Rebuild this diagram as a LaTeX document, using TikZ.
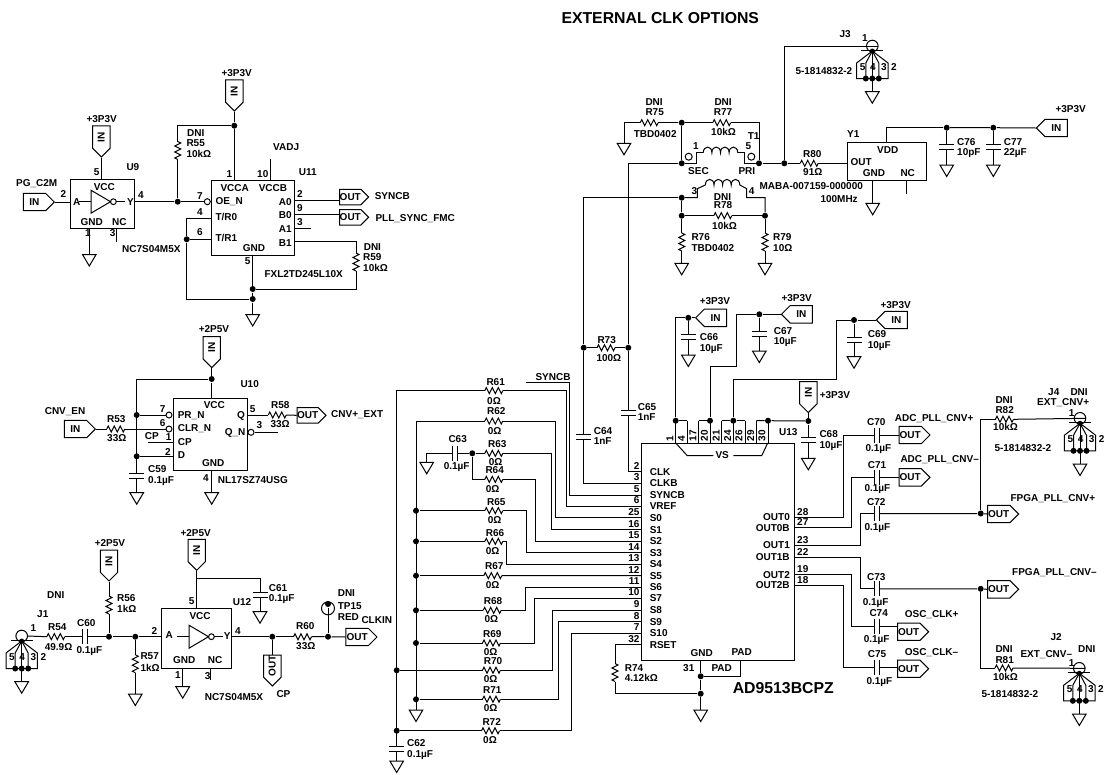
\documentclass[tikz,border=0pt]{standalone}
\usepackage{fontspec}
\setmainfont{Liberation Sans}
\usetikzlibrary{shapes.symbols}
\begin{document}
\begin{tikzpicture}[x=1pt, y=-1pt, line width=1pt,
        every node/.style={font=\fontsize{10}{11}\selectfont\bfseries},
        lbl/.style={anchor=base west, inner sep=0pt},
        ic/.style={draw, rectangle, inner sep=0pt},
        dot/.style={circle, fill=black, inner sep=0pt, minimum size=6},
        bub/.style={circle, draw, inner sep=0pt, minimum size=6},
        port/.style={draw, shape=signal, signal pointer angle=90, inner sep=0pt, minimum width=31, minimum height=17.4},
        inR/.style={port, signal to=east, anchor=east},
        inL/.style={port, signal to=west, anchor=west},
        inD/.style={port, signal to=west, rotate=90, anchor=west},
        pics/res/.style={code={
          \draw (-9,0) -- (-7.5,-3) -- (-4.5,3) -- (-1.5,-3) -- (1.5,3) -- (4.5,-3) -- (7.5,3) -- (9,0);
          \coordinate (-a) at (-9,0);
          \coordinate (-b) at (9,0);
        }},
        pics/capc/.style={code={
          \draw (-2.5,-7.5) -- (-2.5,7.5) (2.5,-7.5) -- (2.5,7.5);
          \coordinate (-a) at (-2.5,0);
          \coordinate (-b) at (2.5,0);
        }},
        pics/gndsym/.style={code={
          \draw (-6.8,0) -- (6.8,0) -- (0,11.5) -- cycle;
          \coordinate (-t) at (0,0);
        }},
        pics/inv/.style={code={
          \draw (0,-11.5) -- (0,11.5) -- (19.5,0) -- cycle;
          \draw (22.4,0) circle (2.9);
          \draw (-12,0) -- (0,0) (25.3,0) -- (34,0);
        }},
        pics/coil/.style={code={
          \draw (0,0) .. controls (0,-7.5) and (8.6,-7.5) .. (8.6,0)
            .. controls (8.6,-7.5) and (17.2,-7.5) .. (17.2,0)
            .. controls (17.2,-7.5) and (25.8,-7.5) .. (25.8,0)
            .. controls (25.8,-7.5) and (34.4,-7.5) .. (34.4,0);
          \coordinate (-a) at (0,0);
          \coordinate (-b) at (34.4,0);
        }},
        pics/bnc/.style={code={
          \draw (0,0) circle (5.8);
          \draw (-11,4.6) -- (11,4.6);
          \draw (0,5) -- (-15.7,17) -- (-15.7,32.5) -- (15.7,32.5) -- (15.7,17) -- (0,5);
          \draw (-6.5,32.5) -- (-6.5,17) -- (0,5) -- (6.5,17) -- (6.5,32.5);
          \draw (0,5) -- (0,45.7);
          \foreach \x in {-6.5,0,6.5} \node[dot] at (\x,32.5) {};
          \node[dot, minimum size=5] (-d) at (0,5) {};
          \node[lbl] (-n5) at (-13,24) {5};
          \node[lbl] (-n4) at (-2.7,24) {4};
          \node[lbl] (-n3) at (8.3,24) {3};
          \node[lbl] (-n2) at (18.3,24) {2};
          \pic (-g) at (0,45.7) {gndsym};
          \coordinate (-p) at (5.8,0);
        }}]
        \useasboundingbox (0,0) rectangle (1107,774);

        \node[lbl, font=\fontsize{15.8}{17}\selectfont\bfseries] (title) at (561,23) {EXTERNAL CLK OPTIONS};
        \node[lbl, font=\fontsize{15.8}{17}\selectfont\bfseries] (u13part) at (732.3,693.3) {AD9513BCPZ};

        \node[ic, minimum width=64.3, minimum height=49] (U9) at (102.8,203.8) {};
        \node[ic, minimum width=83, minimum height=75] (U11) at (252.8,218.2) {};
        \node[ic, minimum width=74.3, minimum height=72] (U10) at (210.2,434) {};
        \node[ic, minimum width=70.4, minimum height=59.6] (U12) at (196.5,638.5) {};
        \node[ic, minimum width=78.7, minimum height=37.7] (Y1) at (886.7,161.2) {};
        \node[ic, minimum width=152.3, minimum height=216.7] (U13) at (717.9,552.3) {};

        \foreach \n/\x/\y in {R53/115.8/429, R58/277.2/415, R54/55.8/636.7, R60/302.5/636.7,
            R61/493.8/390.7, R62/493.8/421, R63/493.8/453.3, R64/493.8/479.3, R65/493.8/510.7, R66/493.8/541.3,
            R67/492.8/575.7, R68/492.2/610.3, R69/491.5/643, R70/491.5/670.3, R71/491.5/699.3, R72/490.5/730.7,
            R73/606/347.7, R75/649.2/122.7, R77/721.7/122.7, R78/722.8/215.7, R80/809.2/163.3, R82/1004.5/419.3, R81/1004/668}
          \pic (\n) at (\x,\y) {res};
        \foreach \n/\x/\y in {R55/177.7/150.5, R59/356/262, R56/109/605, R57/135.3/663.7, R74/615/672.5, R76/681.7/242, R79/765/242}
          \pic[rotate=-90] (\n) at (\x,\y) {res};
        \foreach \n/\x/\y in {C60/84.5/636.7, C63/454.8/453.3, C70/876.5/435, C71/876.5/477, C72/876.5/513.5,
            C73/876.5/588.8, C74/876.5/626, C75/876.5/667}
          \pic (\n) at (\x,\y) {capc};
        \foreach \n/\x/\y in {C59/136.7/475.8, C61/260/594.8, C62/396.7/748.5, C64/583.7/436.7, C65/628.3/413.2,
            C66/688.3/337.2, C67/759.3/333.8, C68/808.3/440.2, C69/854/339.5, C76/946.7/146.5, C77/993.3/146.5}
          \pic[rotate=-90] (\n) at (\x,\y) {capc};
        \foreach \n/\x/\y in {gU9/89.3/254.5, gU11/252.7/314.5, gU10/211.7/492.7, gC59/136.7/492.7, gR57/135.3/694,
            gU12/182.7/686.7, gC61/260/611.7, gC63/426.7/462.3, gS/416/710, gC62/396.7/761, gR74/700.7/710,
            gR75/624/143.3, gR76/681.7/263.3, gR79/765/263.3, gY1/872.7/203.3, gC76/946.7/165, gC77/993.3/165,
            gC66/688.3/355, gC67/759.3/351, gC69/854/356.7, gC68/808.3/458.3}
          \pic (\n) at (\x,\y) {gndsym};
        \foreach \n/\x/\y in {J1/21.7/636, J3/872.3/46, J4/1080/418.3, J2/1079.3/668.3}
          \pic (\n) at (\x,\y) {bnc};
        \pic (invU9) at (91,201.7) {inv};
        \pic (invU12) at (189,636.7) {inv};

        \foreach \n/\x/\y in {pU9/101.3/157.7, pU11/234.3/111.7, pU10/211.7/368.3, pR56/109/581.7, pU12/196.7/571, pU13/808.3/413.3}
          \node[inD] (\n) at (\x,\y) {IN};
        \node[inD] (pCP) at (272.3,686.7) {OUT};
        \foreach \n/\x/\y in {pPG/55/202, pEN/96/429}
          \node[inR] (\n) at (\x,\y) {IN};
        \foreach \n/\x/\y in {pY1/1035.7/128, pC66/695/317.8, pC67/780.7/314.3, pC69/875.7/320}
          \node[inL] (\n) at (\x,\y) {IN};
        \foreach \n/\x/\y in {pSYNC/369.3/197, pPLL/369.3/217.3, pQ/326.7/415.3}
          \node[inR, minimum width=28, minimum height=15.5] (\n) at (\x,\y) {OUT};
        \foreach \n/\x/\y in {pCLK/377.7/637, pC70/930.7/435, pC71/930.7/477.3, pFP/1019.3/514, pFN/1019.3/589.3, pC74/929.3/631.7, pC75/929.3/668.7}
          \node[inR] (\n) at (\x,\y) {OUT};

        \foreach \n/\x/\y in {jU9/177.7/201.7, jU11v/234.3/125.7, jU11a/186.7/239.3, jU11g/252.7/289, jU11h/252.7/299,
            jU10v/211.7/379, jU10p/136.7/415, jU10d/136.7/456.3, jA1/109/636.7, jA2/135.3/636.7, jCP/272.3/636.7,
            jTP/328/636.7, jTPtop/328/604, jL1/416/510.7, jL2/416/541.3, jL3/416/575.7, jL4/416/610.3, jL5/416/643,
            jL6/396.7/670.3, jL7/416/699.3, jL8/396.7/730.7, jC63/472.3/453.3, jR73a/583.7/347.7, jR73b/628.3/347.7,
            jPad/700.7/676.3, jR74/700.7/693.7, jFP/980.7/513.5, jFN/980.7/588.8, jT1a/681.7/122.7, jT1b/681.7/163.3,
            jT1c/759/163.3, jT1d/784.3/163.3, jT1e/681.7/197.7, jT1f/681.7/215.7, jT1g/765/215.7, jY1a/946.7/127.7,
            jY1b/993.3/127.7, jV1/675.7/420.7, jV2/710/420.7, jV3/733.3/420.7, jV4/768/420.7, jV5/808.3/421, jC66/688.3/317.8,
            jC67/759.3/314.3, jC69/854/320}
          \node[dot] (\n) at (\x,\y) {};

        \foreach \n/\x/\y in {bU11/207.3/201.7, bU10a/169/415, bU10b/169/429, bU10c/251/432.3}
          \node[bub] (\n) at (\x,\y) {};
        \foreach \n/\x/\y in {bT1a/688.7/156.7, bT1b/751.3/156.7}
          \node[bub, minimum size=7] (\n) at (\x,\y) {};
        \node[bub, minimum size=13] (tp) at (328,608.3) {};

        \foreach \n/\x/\y in {U9a/70.7/202, U9y/135/201.7, U9v/101.3/179.3, U9g/89.3/228.3, U9nc/116/228.3, U9ncb/116/241.7,
            U11v/234.3/180.7, U11vb/270.7/180.7, U11vc/270.7/158.7, U11t0/211.3/218.3, U11t1/211.3/239.3, U11g/252.7/255.7,
            U11a0/294.3/200, U11b0/294.3/214.3, U11a1/294.3/228.3, U11a1b/310.7/228.3, U11b1/294.3/241.7,
            U10v/211.7/398, U10cp/173/442.7, U10cpb/147.7/442.7, U10d/173/456.3, U10g/211.7/470, U10q/247.3/415, U10qn/277.7/432.3,
            U12a/161.3/636.7, U12y/231.7/636.7, U12v/196.7/608.7, U12vb/196.7/578.7, U12g/182.7/668.3, U12nc/210.7/668.3, U12ncb/210.7/680,
            Y1out/847.3/163.3, Y1v/886/142.3, Y1g/872.7/180, Y1nc/906/180, Y1ncb/906/194.3,
            U13g/700.7/660.7, U13pad/740/660.7}
          \coordinate (\n) at (\x,\y);

        \foreach \n/\y/\t/\pin in {clk/471.7/CLK/2, clkb/483.3/CLKB/3, sync/495/SYNCB/5, vref/506/VREF/6, s0/517.7/S0/25, s1/529.5/S1/16,
            s2/541/S2/15, s3/552.7/S3/14, s4/564/S4/13, s5/575.5/S5/12, s6/587/S6/11, s7/598.3/S7/10, s8/610/S8/9, s9/621.7/S9/8,
            s10/633/S10/7, rset/644.7/RSET/32} {
          \coordinate (U13\n) at (641.7,\y);
          \node[lbl, yshift=-3.5pt] (lab\n) at (649.3,\y) {\t};
          \node[lbl, anchor=base east, yshift=2.5pt] (pin\n) at (640,\y) {\pin};
        }
        \foreach \n/\x/\y/\t/\pin in {o0/762.7/517/OUT0/28, o0b/755.3/527.7/OUT0B/27, o1/762.7/545.3/OUT1/23, o1b/755.3/557/OUT1B/22,
            o2/762.7/574.7/OUT2/19, o2b/755.3/585.3/OUT2B/18} {
          \coordinate (U13\n) at (794,\y);
          \node[lbl, yshift=-3.5pt] (lab\n) at (\x,\y) {\t};
          \node[lbl, yshift=2pt] (pin\n) at (796.7,\y) {\pin};
        }

        \foreach \x/\t [count=\i] in {681.5/4, 693/17, 704.3/20, 716/21, 727.5/24, 739/26, 750.7/29, 762/30, 670/1}
          \node[lbl, anchor=west, rotate=90] (vs\i) at (\x,441.5) {\t};
        \foreach \x [count=\i] in {675.7, 687.3, 698.7, 710, 721.7, 733.3, 745, 756.3, 768}
          \draw (\x,420.7) -- (\x,444);
        \draw (jV1) -- (687.3,420.7);
        \draw (698.7,420.7) -- (jV2);
        \draw (721.7,420.7) -- (jV3) -- (745,420.7);
        \draw (756.3,420.7) -- (jV4) -- (jV5);
        \draw (675.7,443) -- (687.3,455.7) -- (713.3,455.7) (733.3,455.7) -- (761.7,455.7) -- (767.7,443);
        \node[lbl] (vslab) at (715,458.5) {VS};

        \draw (pPG.east) -- (U9a);
        \draw (pU9.west) -- (U9v);
        \draw (U9g) -- (gU9-t);
        \draw (U9nc) -- (U9ncb);
        \draw (U9y) -- (jU9) -- (bU11.west);
        \draw (jU9) -- (R55-b);
        \draw (R55-a) -- (177.7,125.7) -- (jU11v);
        \draw (pU11.west) -- (jU11v) -- (U11v);
        \draw (U11vb) -- (U11vc);
        \draw (U11t0) -| (jU11a) -- (U11t1);
        \draw (jU11a) |- (jU11h);
        \draw (U11g) -- (jU11g) -- (jU11h) -- (gU11-t);
        \draw (U11a0) -- (U11a0 -| pSYNC.west);
        \draw (U11b0) -- (U11b0 -| pPLL.west);
        \draw (U11a1) -- (U11a1b);
        \draw (U11b1) -| (R59-a);
        \draw (R59-b) |- (jU11g);

        \draw (pU10.west) -- (jU10v) -- (U10v);
        \draw (jU10v) -| (C59-a);
        \draw (jU10p) -- (bU10a.west);
        \draw (pEN.east) -- (R53-a);
        \draw (R53-b) -- (bU10b.west);
        \draw (U10cp) -- (U10cpb);
        \draw (jU10d) -- (U10d);
        \draw (C59-b) -- (gC59-t);
        \draw (U10g) -- (gU10-t);
        \draw (U10q) -- (R58-a);
        \draw (R58-b) -- (pQ.west);
        \draw (bU10c.east) -- (U10qn);

        \draw (J1-p) -- (R54-a);
        \draw (R54-b) -- (C60-a);
        \draw (C60-b) -- (jA1) -- (jA2) -- (U12a);
        \draw (pR56.west) -- (R56-a);
        \draw (R56-b) -- (jA1);
        \draw (jA2) -- (R57-a);
        \draw (R57-b) -- (gR57-t);
        \draw (pU12.west) -- (U12v);
        \draw (U12vb) -| (C61-a);
        \draw (C61-b) -- (gC61-t);
        \draw (U12g) -- (gU12-t);
        \draw (U12nc) -- (U12ncb);
        \draw (U12y) -- (jCP) -- (R60-a);
        \draw (jCP) -- (pCP.east);
        \draw (R60-b) -- (jTP) -- (pCLK.west);
        \draw (jTP) -- (jTPtop);

        \draw (R61-a) -| (C62-a);
        \draw (C62-b) -- (gC62-t);
        \draw (R62-a) -| (gS-t);
        \draw (R61-b) -- (566,390.7) |- (U13vref);
        \draw (R62-b) -- (555.7,421) |- (U13s0);
        \draw (gC63-t) |- (C63-a);
        \draw (C63-b) -- (jC63) -- (R63-a);
        \draw (jC63) |- (R64-a);
        \draw (R63-b) -- (551,453.3) |- (U13s1);
        \draw (R64-b) -- (535.7,479.3) |- (U13s2);
        \draw (jL1) -- (R65-a);
        \draw (R65-b) -- (526.7,510.7) |- (U13s3);
        \draw (jL2) -- (R66-a);
        \draw (R66-b) -- (506.7,541.3) |- (U13s4);
        \draw (jL3) -- (R67-a);
        \draw (R67-b) -- (U13s5);
        \draw (jL4) -- (R68-a);
        \draw (R68-b) -- (525.7,610.3) |- (U13s6);
        \draw (jL5) -- (R69-a);
        \draw (R69-b) -- (534.7,643) |- (U13s7);
        \draw (jL6) -- (R70-a);
        \draw (R70-b) -- (552.7,670.3) |- (U13s8);
        \draw (jL7) -- (R71-a);
        \draw (R71-b) -- (558.7,699.3) |- (U13s9);
        \draw (jL8) -- (R72-a);
        \draw (R72-b) -- (571,730.7) |- (U13s10);
        \draw (525.7,382.7) -- (569.3,382.7) |- (U13sync);

        \draw (U13rset) -| (R74-a);
        \draw (R74-b) |- (jR74);
        \draw (U13g) -- (jPad) -- (jR74) -- (gR74-t);
        \draw (jPad) -| (U13pad);

        \draw (U13clk) -| (C65-b);
        \draw (C65-a) -- (jR73b) -- (628.3,163.3) -- (jT1b);
        \draw (U13clkb) -| (C64-b);
        \draw (C64-a) -- (jR73a) -- (583.7,197.7) -- (jT1e);
        \draw (jR73a) -- (R73-a);
        \draw (R73-b) -- (jR73b);

        \draw (gR75-t) |- (R75-a);
        \draw (R75-b) -- (jT1a) -- (R77-a);
        \draw (R77-b) -| (jT1c);
        \draw (jT1a) -- (jT1b);
        \pic (coilP) at (703.3,152.7) {coil};
        \pic (coilS) at (705.4,185) {coil};
        \draw (jT1b) -- (696,163.3) -- (696,152.7) -- (coilP-a);
        \draw (coilP-b) -- (744,152.7) -- (744,163.3) -- (jT1c);
        \draw (jT1c) -- (jT1d) -- (R80-a);
        \draw (R80-b) -- (Y1out);
        \draw (jT1d) |- (J3-p);
        \draw (jT1e) -- (697.3,197.7) -- (697.3,188.7) -- (coilS-a);
        \draw (coilS-b) -- (746.7,188.7) -- (746.7,197.7) -- (765,197.7) -- (jT1g);
        \draw (jT1e) -- (jT1f) -- (R78-a);
        \draw (R78-b) -- (jT1g);
        \draw (jT1f) -- (R76-a);
        \draw (R76-b) -- (gR76-t);
        \draw (jT1g) -- (R79-a);
        \draw (R79-b) -- (gR79-t);

        \draw (Y1v) |- (jY1a);
        \draw (jY1a) -- (jY1b) -- (pY1.west);
        \draw (jY1a) -- (C76-a);
        \draw (C76-b) -- (gC76-t);
        \draw (jY1b) -- (C77-a);
        \draw (C77-b) -- (gC77-t);
        \draw (Y1g) -- (gY1-t);
        \draw (Y1nc) -- (Y1ncb);

        \draw (jV1) |- (jC66);
        \draw (jC66) -- (pC66.west);
        \draw (jC66) -- (C66-a);
        \draw (C66-b) -- (gC66-t);
        \draw (jV2) -- (710,366.7) -- (736.3,366.7) |- (jC67);
        \draw (jC67) -- (pC67.west);
        \draw (jC67) -- (C67-a);
        \draw (C67-b) -- (gC67-t);
        \draw (jV3) -- (733.3,379.3) -- (836,379.3) |- (jC69);
        \draw (jC69) -- (pC69.west);
        \draw (jC69) -- (C69-a);
        \draw (C69-b) -- (gC69-t);
        \draw (pU13.west) -- (jV5) -- (C68-a);
        \draw (C68-b) -- (gC68-t);

        \draw (U13o0) -- (843.3,517) |- (C70-a);
        \draw (C70-b) -- (C70-b -| pC70.west);
        \draw (U13o0b) -- (851.7,527.7) |- (C71-a);
        \draw (C71-b) -- (C71-b -| pC71.west);
        \draw (U13o1) -- (860,545.3) |- (C72-a);
        \draw (C72-b) -- (jFP) -- (pFP.west);
        \draw (U13o1b) -- (860,557) |- (C73-a);
        \draw (C73-b) -- (jFN) -- (pFN.west);
        \draw (U13o2) -- (851.7,574.7) |- (C74-a);
        \draw (C74-b) -- (C74-b -| pC74.west);
        \draw (U13o2b) -- (843.3,585.3) |- (C75-a);
        \draw (C75-b) -- (C75-b -| pC75.west);
        \draw (jFP) |- (R82-a);
        \draw (R82-b) -- (J4-p);
        \draw (jFN) |- (R81-a);
        \draw (R81-b) -- (J2-p);

        \foreach \x/\y/\t [count=\i] in {15.7/186/PG\_C2M, 86/122.7/+3P3V, 60/197.3/2, 72.7/205/A, 93.3/190.7/VCC, 93.3/175/5,
            80/225.7/GND, 111.7/225.7/NC, 84.7/236.7/1, 109.3/236.7/3, 121.7/252.3/NC7S04M5X, 126/170/U9, 137.7/198.3/4, 126.7/205/Y}
          \node[lbl] (tU9\i) at (\x,\y) {\t};
        \foreach \x/\y/\t [count=\i] in {186.7/136/DNI, 186/146.7/R55, 186/157.3/10kΩ, 221/76/+3P3V, 226/177.7/1, 256.7/177.7/10,
            272.7/150/VADJ, 298.3/175.7/U11, 220/191.7/VCCA, 258.3/191.7/VCCB, 215/204.3/OE\_N, 196.7/199.3/7, 278.3/205.7/A0,
            278.3/218.3/B0, 278.3/232.3/A1, 278.3/246/B1, 296.7/197.7/2, 296.7/211/9, 296.7/225.7/3, 374.3/199/SYNCB,
            375/221.7/PLL\_SYNC\_FMC, {215}/220.7/{T/R0}, {215}/241.3/{T/R1}, 196.7/215.7/4, 196.7/235.7/6, 242.3/251.7/GND,
            244.3/264.3/5, 264/277.7/FXL2TD245L10X, 363.3/250.7/DNI, 362.7/260.7/R59, 362.7/271/10kΩ}
          \node[lbl] (tU11\i) at (\x,\y) {\t};
        \foreach \x/\y/\t [count=\i] in {198.3/332/+2P5V, 203.3/408.3/VCC, 240/387.3/U10, 177.3/418.3/PR\_N, 159.3/412.7/7,
            177.3/431.7/CLR\_N, 159.3/426.7/6, 177.3/445/CP, 165.3/440.7/1, 144.3/439.3/CP, 177.3/458.3/D, 164.7/455/2,
            147.7/472.3/C59, 147.7/483/0.1µF, 201.7/466.7/GND, 202.7/481.7/4, 217.3/483.3/NL17SZ74USG, 236.7/418.3/Q,
            224.3/435/Q\_N, 256/428.3/3, 249.3/412.3/5, 270.7/408.7/R58, 270/427/33Ω, 330.7/417.7/CNV+\_EXT, 44.3/414.7/CNV\_EN,
            106.7/422/R53, 106.7/441.7/33Ω}
          \node[lbl] (tU10\i) at (\x,\y) {\t};
        \foreach \x/\y/\t [count=\i] in {94.3/546.7/+2P5V, 116.7/601.7/R56, 116.7/612.7/1kΩ, 180/536.7/+2P5V, 268.3/591/C61,
            268.3/601.3/0.1µF, 232.3/605/U12, 188.3/604.3/5, 189/619/VCC, 165/638.3/A, 223.3/639/Y, 172.7/663.3/GND, 207.3/663.3/NC,
            151/634/2, 234.7/634/4, 174.7/678.3/1, 204.3/679/3, 204.3/700/NC7S04M5X, 276/697.3/CP, 295.7/629.3/R60, 295.7/649/33Ω,
            337.3/596/DNI, 337.3/609.3/TP15, 337.3/620/RED, 361/623.3/CLKIN, 46.7/598.7/DNI, 36.7/617.3/J1, 30/631.7/1, 47.7/630.7/R54,
            44.3/650.7/49.9Ω, 76.7/626.7/C60, 76/653.3/0.1µF, 140/659.7/R57, 140/671/1kΩ}
          \node[lbl] (tU12\i) at (\x,\y) {\t};
        \foreach \x/\y/\t [count=\i] in {486/385/R61, 486.7/404/0Ω, 486.7/414/R62, 487.3/434.7/0Ω, 487.7/447.7/R63, 488.3/465.3/0Ω,
            485/473.7/R64, 485.3/492.3/0Ω, 486.7/505.3/R65, 487.3/523.3/0Ω, 485.3/536/R66, 485.3/554.3/0Ω, 484.7/569.3/R67, 485.3/588.3/0Ω,
            483.3/604.3/R68, 484/622.7/0Ω, 482.7/637.3/R69, 483.3/655.7/0Ω, 483.3/664.3/R70, 483.3/682.7/0Ω, 482.7/693.3/R71, 483.3/711.7/0Ω,
            482/725/R72, 482.7/743.3/0Ω, 535/380.7/SYNCB, 448/442.7/C63, 443.3/469/0.1µF, 406.7/746/C62, 406.7/757/0.1µF,
            624.3/671.7/R74, 624.3/681.7/4.12kΩ, 690/656/GND, 731/655.7/PAD, 682.7/671.3/31, 711/671.7/PAD, 597/343/R73, 596/361/100Ω,
            637.3/410/C65, 637.3/420.7/1nF, 593.3/434/C64, 593.3/444.3/1nF}
          \node[lbl] (tS\i) at (\x,\y) {\t};
        \foreach \x/\y/\t [count=\i] in {861.7/41.7/1, 839/37.7/J3, 795/74/5-1814832-2, 846.7/137.7/Y1, 876.7/153.3/VDD, 850/165.7/OUT,
            862.3/176/GND, 900/176/NC, 802.7/157.3/R80, 802.7/175/91Ω, 956.7/145/C76, 956.7/155/10pF, 1003.3/145/C77, 1003.3/155/22µF,
            1055/112.3/+3P3V, 759/189.3/MABA-007159-000000, 820/202.3/100MHz, 747.3/139.3/T1, 745/149.3/5, 692.7/149.3/1, 687.7/174/SEC,
            738/174/PRI, 691/194/3, 748.3/194/4, 645/105.7/DNI, 645/115.7/R75, 633.3/137.3/TBD0402, 714/105/DNI, 713.3/115.7/R77,
            710.7/135.7/10kΩ, 713.3/200/DNI, 713.3/208.3/R78, 711.7/229/10kΩ, 691/240/R76, 691/251/TBD0402, 772.7/240/R79, 772.7/251/10Ω}
          \node[lbl] (tT\i) at (\x,\y) {\t};
        \foreach \x/\y/\t [count=\i] in {699.3/340.7/C66, 699.3/351/10µF, 699.3/304/+3P3V, 773.3/334/C67, 773.3/344.3/10µF, 781/301/+3P3V,
            867.3/337.7/C69, 867.3/348.3/10µF, 880/308.3/+3P3V, 819/437.7/C68, 819/448.3/10µF, 819.3/398.3/+3P3V, 778.7/435/U13}
          \node[lbl] (tV\i) at (\x,\y) {\t};
        \foreach \x/\y/\t [count=\i] in {866.7/425/C70, 865/451.7/0.1µF, 894.3/421.7/ADC\_PLL\_CNV+, 867.3/468.3/C71, 864/491.7/0.1µF,
            900/462.7/ADC\_PLL\_CNV–, 866.7/505/C72, 864/530/0.1µF, 1010/501.7/FPGA\_PLL\_CNV+, 995/403.3/DNI, 995/413.3/R82, 992.7/430.7/10kΩ,
            994/451.7/5-1814832-2, 1047.7/395/J4, 1070/395/DNI, 1036.7/405/EXT\_CNV+, 1068.3/416/1, 866.7/580/C73, 862.3/605/0.1µF,
            1011.7/575/FPGA\_PLL\_CNV–, 869/616.7/C74, 863.3/642.3/0.1µF, 904.3/617.7/OSC\_CLK+, 867.3/657.3/C75, 866/684/0.1µF,
            904.3/655.7/OSC\_CLK–, 995/652.3/DNI, 995/663.3/R81, 992.7/680.7/10kΩ, 981/697.7/5-1814832-2, 1020/657.7/EXT\_CNV–,
            1050/640/J2, 1077.7/652.7/DNI, 1068.3/666/1}
          \node[lbl] (tO\i) at (\x,\y) {\t};
      \end{tikzpicture}
\end{document}
